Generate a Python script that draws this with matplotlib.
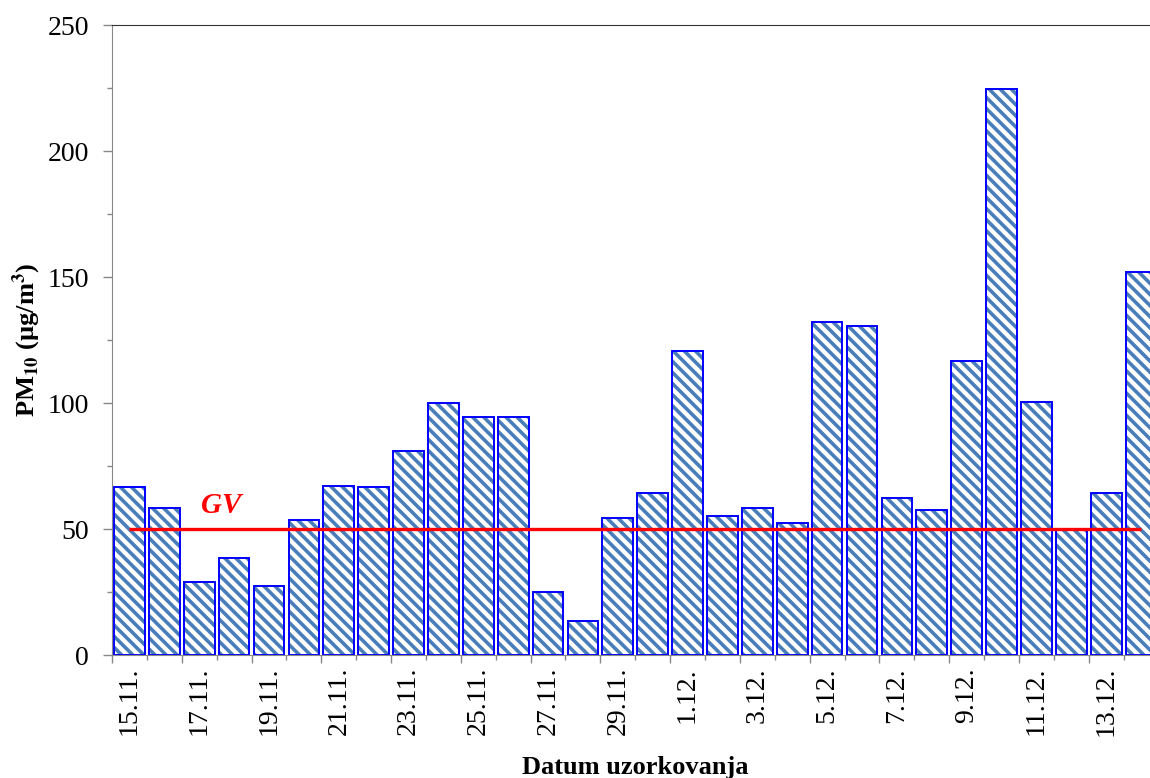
import numpy as np
import matplotlib
matplotlib.use("Agg")
import matplotlib.pyplot as plt
from matplotlib.ticker import FixedLocator, MultipleLocator

plt.rcParams['font.family'] = ['Liberation Serif', 'DejaVu Serif']
plt.rcParams['mathtext.fontset'] = 'stix'
plt.rcParams['hatch.linewidth'] = 2.6

# daily PM10 samples, 15.11. - 14.12.
dates = ['15.11.', '16.11.', '17.11.', '18.11.', '19.11.', '20.11.', '21.11.',
         '22.11.', '23.11.', '24.11.', '25.11.', '26.11.', '27.11.', '28.11.',
         '29.11.', '30.11.', '1.12.', '2.12.', '3.12.', '4.12.', '5.12.',
         '6.12.', '7.12.', '8.12.', '9.12.', '10.12.', '11.12.', '12.12.',
         '13.12.', '14.12.']
pm10 = [66.5, 58.5, 29, 38.5, 27.5, 53.5, 67, 66.5, 81, 100, 94.5, 94.5,
        25, 13.5, 54.5, 64.5, 120.5, 55, 58.5, 52.5, 132, 130.5, 62.5, 57.5,
        116.5, 224.5, 100.5, 49.5, 64.5, 152]
gv = 50  # granicna vrijednost

x = np.arange(len(dates))

fig = plt.figure(figsize=(11.5, 7.78), dpi=100)
ax = fig.add_axes([0.0974, 0.158, 0.91, 0.8098])

# hatch first, then the blue outline on top
ax.bar(x, pm10, width=0.88, color='white', edgecolor='#4a7ebb',
       hatch='\\\\\\', linewidth=0)
ax.bar(x, pm10, width=0.88, color='none', edgecolor='#0000ff', linewidth=1.4)

ax.hlines(gv, x[0], x[-1], color='#ff0000', lw=2.4, zorder=5)
ax.text(2.62, 59.5, 'GV', color='#ff0000', fontsize=21, fontweight='bold',
        fontstyle='italic', ha='center', va='center')

ax.set_xlim(-0.5, len(dates) - 0.5)
ax.set_ylim(0, 250)

# y axis: majors every 50, minors every 25
ax.yaxis.set_major_locator(MultipleLocator(50))
ax.yaxis.set_minor_locator(MultipleLocator(25))
ax.tick_params(axis='y', which='major', length=6.5, width=1, color='#888888',
               labelsize=20, pad=10)
ax.tick_params(axis='y', which='minor', length=3.6, width=1, color='#888888')

# x axis: tick marks between bars, long and short alternating
edges = x - 0.5
ax.xaxis.set_major_locator(FixedLocator(edges[::2]))
ax.xaxis.set_minor_locator(FixedLocator(edges[1::2]))
ax.tick_params(axis='x', which='major', length=6, width=1, color='#888888',
               labelbottom=False)
ax.tick_params(axis='x', which='minor', length=3.6, width=1, color='#888888')

# date labels centred under every second bar
lab = ax.secondary_xaxis('bottom')
lab.set_xticks(x[::2], dates[::2], rotation=90)
lab.tick_params(length=0, labelsize=20, pad=8.5)
lab.spines['bottom'].set_visible(False)

for s in ('left', 'bottom'):
    ax.spines[s].set_color('#888888')
ax.spines['top'].set_color('#333333')
ax.spines['right'].set_visible(False)

ax.set_ylabel(r'PM$_{\mathbf{10}}$ (µg/m$^{\mathbf{3}}$)', fontsize=19,
              fontweight='bold')
ax.yaxis.set_label_coords(-0.0812, 0.5)
ax.yaxis.label.set_va('center')
ax.set_xlabel('Datum uzorkovanja', fontsize=19, fontweight='bold')
ax.xaxis.set_label_coords(0.5, -0.179)
ax.xaxis.label.set_va('center')

fig.savefig('out.png', dpi=100)
